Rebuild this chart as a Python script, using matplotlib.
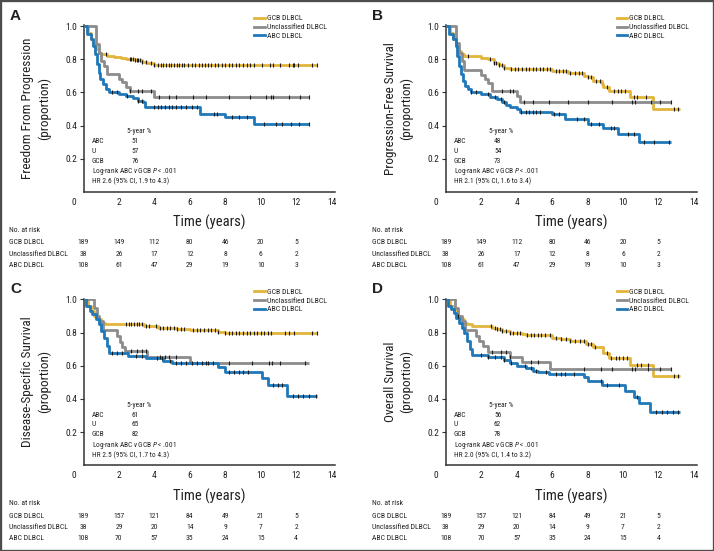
import numpy as np
import matplotlib
matplotlib.use('Agg')
import matplotlib.pyplot as plt
from matplotlib import font_manager
from matplotlib.lines import Line2D
from matplotlib.patches import Rectangle
from matplotlib.transforms import blended_transform_factory

# ---- pick a condensed face if one is around ----
names = {f.name for f in font_manager.fontManager.ttflist}
font_name, font_stretch = 'Liberation Sans', 'normal'
for n in ['Liberation Sans Narrow', 'Roboto Condensed', 'Open Sans Condensed']:
    if n in names:
        font_name = n
        break
else:
    for f in font_manager.fontManager.ttflist:
        if f.name == 'DejaVu Sans' and f.stretch == 'condensed':
            font_name, font_stretch = 'DejaVu Sans', 'condensed'
            break

plt.rcParams['font.family'] = [font_name, 'DejaVu Sans']
plt.rcParams['font.stretch'] = font_stretch
plt.rcParams['mathtext.fontset'] = 'custom'
plt.rcParams['mathtext.rm'] = font_name
plt.rcParams['mathtext.it'] = font_name + ':italic'

# ---- data ----
groups = ['GCB DLBCL', 'Unclassified DLBCL', 'ABC DLBCL']
colors = ['#E2B43A', '#8C8C8C', '#1F78B8']
risk_times = [0, 2, 4, 6, 8, 10, 12]

# A: freedom from progression
a_gcb_t = [0.25, 0.4, 0.55, 0.7, 0.85, 1.0, 1.3, 1.7, 2.1, 2.4, 2.9, 3.3, 3.6, 4.0]
a_gcb_s = [0.96, 0.92, 0.89, 0.86, 0.84, 0.83, 0.82, 0.815, 0.81, 0.80, 0.795, 0.785, 0.775, 0.765]
a_gcb_c = [1.25, 2.6, 2.7, 2.8, 2.9, 3.0, 3.1, 3.2, 3.3, 3.5, 3.8, 4.0, 4.2, 4.35, 4.5, 4.65,
           4.8, 4.95, 5.1, 5.25, 5.4, 5.55, 5.7, 5.9, 6.1, 6.3, 6.5, 6.7, 6.85, 7.0, 7.2, 7.4,
           7.6, 7.8, 8.0, 8.2, 8.4, 8.6, 8.8, 9.0, 9.2, 9.4, 9.6, 10.1, 10.5, 10.7, 11.1, 11.6,
           11.8, 11.9, 12.1, 12.9, 13.2]
a_u_t = [0.7, 0.85, 1.0, 1.15, 1.3, 2.0, 2.2, 2.4, 2.6, 4.0]
a_u_s = [0.89, 0.84, 0.79, 0.76, 0.71, 0.68, 0.66, 0.63, 0.61, 0.575]
a_u_c = [2.6, 3.1, 3.3, 3.8, 4.25, 4.8, 5.2, 6.2, 6.9, 8.2, 9.4, 10.3, 10.6, 10.7, 11.6, 12.2, 12.7]
a_abc_t = [0.2, 0.4, 0.55, 0.65, 0.75, 0.85, 0.95, 1.1, 1.25, 1.45, 2.0, 2.4, 2.8, 3.1, 3.35,
           3.45, 6.6, 8.0, 9.6]
a_abc_s = [0.95, 0.92, 0.88, 0.83, 0.77, 0.72, 0.68, 0.65, 0.62, 0.60, 0.59, 0.58, 0.565, 0.55,
           0.54, 0.51, 0.47, 0.45, 0.41]
a_abc_c = [1.6, 1.9, 2.45, 3.1, 3.3, 4.0, 4.2, 4.4, 4.6, 4.8, 5.0, 5.2, 5.5, 5.8, 6.1, 6.4, 7.35,
           7.55, 8.4, 8.75, 9.2, 10.2, 10.85, 11.2, 11.7, 12.15, 12.7]

# B: progression-free survival
b_gcb_t = [0.25, 0.4, 0.55, 0.7, 0.85, 1.0, 2.0, 2.4, 2.7, 3.0, 3.3, 3.6, 6.0, 6.9, 7.8, 8.0,
           8.3, 8.8, 8.9, 9.2, 10.4, 11.7]
b_gcb_s = [0.96, 0.92, 0.88, 0.85, 0.83, 0.82, 0.81, 0.80, 0.78, 0.765, 0.75, 0.74, 0.73, 0.72,
           0.70, 0.69, 0.67, 0.65, 0.63, 0.61, 0.57, 0.50]
b_gcb_c = [1.25, 2.5, 2.7, 2.85, 3.0, 3.15, 3.3, 3.7, 3.9, 4.1, 4.3, 4.5, 4.7, 4.9, 5.1, 5.3,
           5.5, 5.7, 5.9, 6.2, 6.4, 6.6, 6.8, 7.0, 7.3, 7.5, 7.7, 8.0, 8.2, 8.5, 8.7, 9.1, 9.5,
           9.7, 9.9, 10.1, 10.6, 10.8, 11.3, 12.9, 13.1]
b_u_t = [0.55, 0.75, 0.9, 1.05, 2.0, 2.2, 2.4, 2.6, 4.0, 4.2]
b_u_s = [0.9, 0.84, 0.79, 0.735, 0.705, 0.68, 0.655, 0.61, 0.58, 0.545]
b_u_c = [3.2, 3.6, 3.8, 4.4, 4.9, 5.8, 6.9, 8.0, 9.4, 10.5, 10.7, 11.6, 12.1, 12.7]
b_abc_t = [0.2, 0.4, 0.55, 0.65, 0.75, 0.85, 0.95, 1.1, 1.25, 1.4, 2.0, 2.5, 2.9, 3.2, 3.4,
           3.6, 4.0, 4.2, 6.0, 6.7, 8.0, 8.85, 9.7, 10.9]
b_abc_s = [0.95, 0.92, 0.88, 0.82, 0.76, 0.71, 0.67, 0.64, 0.62, 0.60, 0.59, 0.575, 0.56, 0.545,
           0.525, 0.51, 0.50, 0.485, 0.47, 0.44, 0.41, 0.385, 0.35, 0.30]
b_abc_c = [1.45, 1.7, 2.4, 2.75, 3.1, 3.3, 4.25, 4.5, 4.7, 4.9, 5.1, 5.3, 6.1, 6.4, 7.4, 7.8,
           8.2, 8.65, 9.3, 9.5, 10.3, 10.6, 11.2, 11.75, 12.6]

# C: disease-specific survival
c_gcb_t = [0.25, 0.45, 0.6, 0.8, 1.0, 1.2, 3.4, 4.2, 5.3, 6.0, 7.6, 8.0]
c_gcb_s = [0.96, 0.93, 0.9, 0.88, 0.86, 0.85, 0.84, 0.83, 0.82, 0.815, 0.805, 0.80]
c_gcb_c = [2.4, 2.55, 2.7, 2.85, 3.0, 3.15, 3.3, 3.5, 3.7, 4.1, 4.3, 4.5, 4.7, 4.9, 5.1, 5.3,
           5.5, 5.7, 6.2, 6.4, 6.6, 6.8, 7.0, 7.2, 7.4, 7.6, 8.0, 8.2, 8.4, 8.6, 8.8, 9.0, 9.2,
           9.4, 9.6, 9.8, 10.0, 10.2, 10.4, 10.6, 11.4, 11.6, 11.9, 12.9, 13.2]
c_u_t = [0.6, 0.75, 0.9, 1.1, 1.9, 2.05, 2.2, 2.35, 3.6, 6.0]
c_u_s = [0.95, 0.9, 0.87, 0.815, 0.78, 0.74, 0.71, 0.69, 0.655, 0.615]
c_u_c = [2.7, 3.0, 3.3, 3.5, 4.3, 4.6, 4.85, 5.2, 6.9, 8.2, 9.5, 10.45, 10.65, 11.1, 12.5]
c_abc_t = [0.15, 0.35, 0.5, 0.7, 0.85, 1.0, 1.15, 1.3, 1.45, 2.5, 3.5, 4.5, 5.0, 7.6, 8.0,
           10.1, 10.4, 11.5]
c_abc_s = [0.96, 0.93, 0.91, 0.88, 0.85, 0.81, 0.77, 0.72, 0.675, 0.66, 0.645, 0.63, 0.615,
           0.59, 0.565, 0.525, 0.485, 0.42]
c_abc_c = [1.6, 1.9, 2.2, 2.95, 3.3, 4.15, 4.45, 4.9, 5.2, 5.5, 5.8, 6.1, 6.4, 6.7, 7.0, 7.3,
           8.2, 8.5, 8.8, 9.0, 9.3, 10.7, 11.0, 11.2, 11.8, 12.1, 12.4, 12.7, 13.1]

# D: overall survival
d_gcb_t = [0.25, 0.45, 0.6, 0.8, 1.0, 1.2, 1.5, 2.6, 2.9, 3.2, 3.6, 4.3, 4.5, 6.0, 6.5, 7.0,
           7.9, 8.3, 8.9, 9.2, 10.4, 11.7]
d_gcb_s = [0.96, 0.93, 0.9, 0.88, 0.86, 0.85, 0.84, 0.83, 0.82, 0.81, 0.80, 0.79, 0.785, 0.77,
           0.76, 0.75, 0.73, 0.715, 0.675, 0.645, 0.605, 0.54]
d_gcb_c = [0.7, 2.55, 2.75, 2.9, 3.05, 3.2, 3.4, 3.6, 3.8, 4.0, 4.2, 4.6, 4.8, 5.0, 5.2, 5.4,
           5.6, 5.9, 6.2, 6.5, 6.8, 7.0, 7.3, 7.6, 7.8, 8.0, 8.2, 8.4, 9.1, 9.3, 9.6, 9.8, 10.0,
           10.2, 10.8, 11.0, 11.4, 12.9, 13.1]
d_u_t = [0.5, 0.7, 0.9, 1.1, 1.7, 1.9, 2.1, 2.4, 3.6, 4.3, 5.9]
d_u_s = [0.95, 0.9, 0.87, 0.815, 0.78, 0.75, 0.72, 0.685, 0.655, 0.625, 0.58]
d_u_c = [2.6, 3.1, 3.4, 3.6, 4.8, 5.2, 7.8, 8.75, 9.4, 10.5, 10.7, 11.4, 12.1, 12.7]
d_abc_t = [0.15, 0.3, 0.45, 0.6, 0.75, 0.9, 1.05, 1.2, 1.35, 1.5, 2.4, 3.3, 3.6, 4.0, 4.5, 4.9,
           5.2, 5.8, 7.8, 8.0, 8.8, 10.1, 10.6, 10.9, 11.5]
d_abc_s = [0.96, 0.94, 0.92, 0.89, 0.86, 0.83, 0.80, 0.75, 0.70, 0.665, 0.65, 0.635, 0.615, 0.60,
           0.585, 0.57, 0.56, 0.55, 0.53, 0.51, 0.485, 0.45, 0.41, 0.375, 0.32]
d_abc_c = [2.0, 2.4, 2.75, 3.1, 3.3, 3.7, 4.45, 4.8, 5.1, 5.65, 6.2, 6.5, 6.7, 7.25, 8.75, 9.1,
           9.8, 10.8, 11.85, 12.2, 12.5, 12.85, 13.1]

# curve end (last follow-up) per group
ab_end = [13.2, 12.7, 12.7]
cd_end = [13.2, 12.7, 13.2]

# numbers at risk
ab_risk_gcb = [189, 149, 112, 80, 46, 20, 5]
ab_risk_u = [38, 26, 17, 12, 8, 6, 2]
ab_risk_abc = [108, 61, 47, 29, 19, 10, 3]
cd_risk_gcb = [189, 157, 121, 84, 49, 21, 5]
cd_risk_u = [38, 29, 20, 14, 9, 7, 2]
cd_risk_abc = [108, 70, 57, 35, 24, 15, 4]

ylabels = ['Freedom From Progression\n(proportion)', 'Progression-Free Survival\n(proportion)',
           'Disease-Specific Survival\n(proportion)', 'Overall Survival\n(proportion)']
letters = ['A', 'B', 'C', 'D']
# 5-year %, in the order ABC, U, GCB
five_year = [[51, 57, 76], [48, 54, 73], [61, 65, 82], [56, 62, 78]]
hr_text = ['HR 2.6 (95% CI, 1.9 to 4.3)', 'HR 2.1 (95% CI, 1.6 to 3.4)',
           'HR 2.5 (95% CI, 1.7 to 4.3)', 'HR 2.0 (95% CI, 1.4 to 3.2)']

curves = [
    [(a_gcb_t, a_gcb_s, a_gcb_c), (a_u_t, a_u_s, a_u_c), (a_abc_t, a_abc_s, a_abc_c)],
    [(b_gcb_t, b_gcb_s, b_gcb_c), (b_u_t, b_u_s, b_u_c), (b_abc_t, b_abc_s, b_abc_c)],
    [(c_gcb_t, c_gcb_s, c_gcb_c), (c_u_t, c_u_s, c_u_c), (c_abc_t, c_abc_s, c_abc_c)],
    [(d_gcb_t, d_gcb_s, d_gcb_c), (d_u_t, d_u_s, d_u_c), (d_abc_t, d_abc_s, d_abc_c)],
]
ends = [ab_end, ab_end, cd_end, cd_end]
risks = [[ab_risk_gcb, ab_risk_u, ab_risk_abc]] * 2 + [[cd_risk_gcb, cd_risk_u, cd_risk_abc]] * 2

# ---- layout (pixels) ----
W, H = 714, 551
offsets = [(0, 0), (362.3, 0), (0, 273.3), (362.3, 273.3)]
ax_left, ax_bottom, ax_w, ax_h = 83.5, 192, 251.6, 166.8
txt = '#231f20'

fig = plt.figure(figsize=(W / 100, H / 100), dpi=100)

for i in range(4):
    dx, dy = offsets[i]
    ax = fig.add_axes([(ax_left + dx) / W, 1 - (ax_bottom + dy) / H, ax_w / W, ax_h / H])
    ax.set_xlim(0, 14.2)
    ax.set_ylim(0, 1.005)

    for g in range(3):
        t, s, cens = curves[i][g]
        xs = np.r_[0, t, ends[i][g]]
        ys = np.r_[1.0, s, s[-1]]
        ax.step(xs, ys, where='post', color=colors[g], lw=2.0, solid_capstyle='butt', zorder=2 + g)
        # censor marks sit on the step curve
        cy = ys[np.searchsorted(xs, cens, side='right') - 1]
        ax.plot(cens, cy, ls='none', marker='|', ms=3.2, mew=0.8, color='#1a1a1a', zorder=6)

    for side in ['top', 'right']:
        ax.spines[side].set_visible(False)
    for side in ['left', 'bottom']:
        ax.spines[side].set_color('#333333')
        ax.spines[side].set_linewidth(1.1)

    ax.set_yticks([0.2, 0.4, 0.6, 0.8, 1.0])
    ax.set_yticklabels(['0.2', '0.4', '0.6', '0.8', '1.0'])
    ax.set_xticks([2, 4, 6, 8, 10, 12, 14])
    ax.set_xticklabels(['2', '4', '6', '8', '10', '12', '14'])
    ax.tick_params(axis='y', direction='out', length=2.8, width=0.8, pad=1.8,
                   labelsize=6.8, colors='#333333', labelcolor=txt)
    ax.tick_params(axis='x', length=0, pad=4.2, labelsize=6.8, labelcolor=txt)
    ax.text(-9.5 / ax_w, -10.3 / ax_h, '0', transform=ax.transAxes, ha='center', va='center',
            fontsize=6.8, color=txt)

    ax.set_xlabel('Time (years)', fontsize=10.5, color=txt)
    ax.xaxis.set_label_coords(0.5, -30.7 / ax_h)
    ax.xaxis.label.set_va('center')
    ax.set_ylabel(ylabels[i], fontsize=9.5, color=txt, linespacing=1.3)
    ax.yaxis.set_label_coords(-47.5 / ax_w, 0.5)
    ax.yaxis.label.set_va('center')

    # legend
    handles = [Line2D([], [], color=c, lw=2.0) for c in colors]
    ax.legend(handles, groups, loc='upper left', bbox_to_anchor=(9.65 / 14.2, 1.062),
              bbox_transform=ax.transAxes, frameon=False, fontsize=5.6, handlelength=1.35,
              handletextpad=0.25, labelspacing=0.32, borderpad=0, borderaxespad=0,
              labelcolor=txt)

    # 5-year block
    fs = 5.3
    ax.text(2.43, 0.363, '5-year %', fontsize=fs, va='center', color=txt)
    for k, lab in enumerate(['ABC', 'U', 'GCB']):
        yy = 0.303 - 0.06 * k
        ax.text(0.46, yy, lab, fontsize=fs, va='center', color=txt)
        ax.text(2.72, yy, str(five_year[i][k]), fontsize=fs, va='center', color=txt)
    ax.text(0.46, 0.122, r'Log-rank ABC $\mathit{v}$ GCB $\mathit{P}$ < .001', fontsize=fs,
            va='center', color=txt)
    ax.text(0.46, 0.062, hr_text[i], fontsize=fs, va='center', color=txt)

    # numbers at risk
    tr = blended_transform_factory(ax.transData, ax.transAxes)
    lab_x = -74.2 / ax_w
    ax.text(lab_x, -38 / ax_h, 'No. at risk', transform=ax.transAxes, fontsize=5.5,
            va='center', color=txt)
    row_y = [-50.3 / ax_h, -61.5 / ax_h, -73 / ax_h]
    for g in range(3):
        ax.text(lab_x, row_y[g], groups[g], transform=ax.transAxes, fontsize=5.5,
                va='center', color=txt)
        for tt, n in zip(risk_times, risks[i][g]):
            ax.text(tt, row_y[g], str(n), transform=tr, fontsize=5.5, ha='center',
                    va='center', color=txt)

    fig.text((10 + dx) / W, 1 - (15.5 + dy) / H, letters[i], fontsize=11, fontweight='bold',
             family='Liberation Sans', ha='left', va='center', color=txt)

fig.patches.append(Rectangle((0, 0), 1, 1, transform=fig.transFigure, fill=False,
                             edgecolor='#4d4d4d', linewidth=2.4))

fig.savefig('out.png', dpi=100, facecolor='white')
